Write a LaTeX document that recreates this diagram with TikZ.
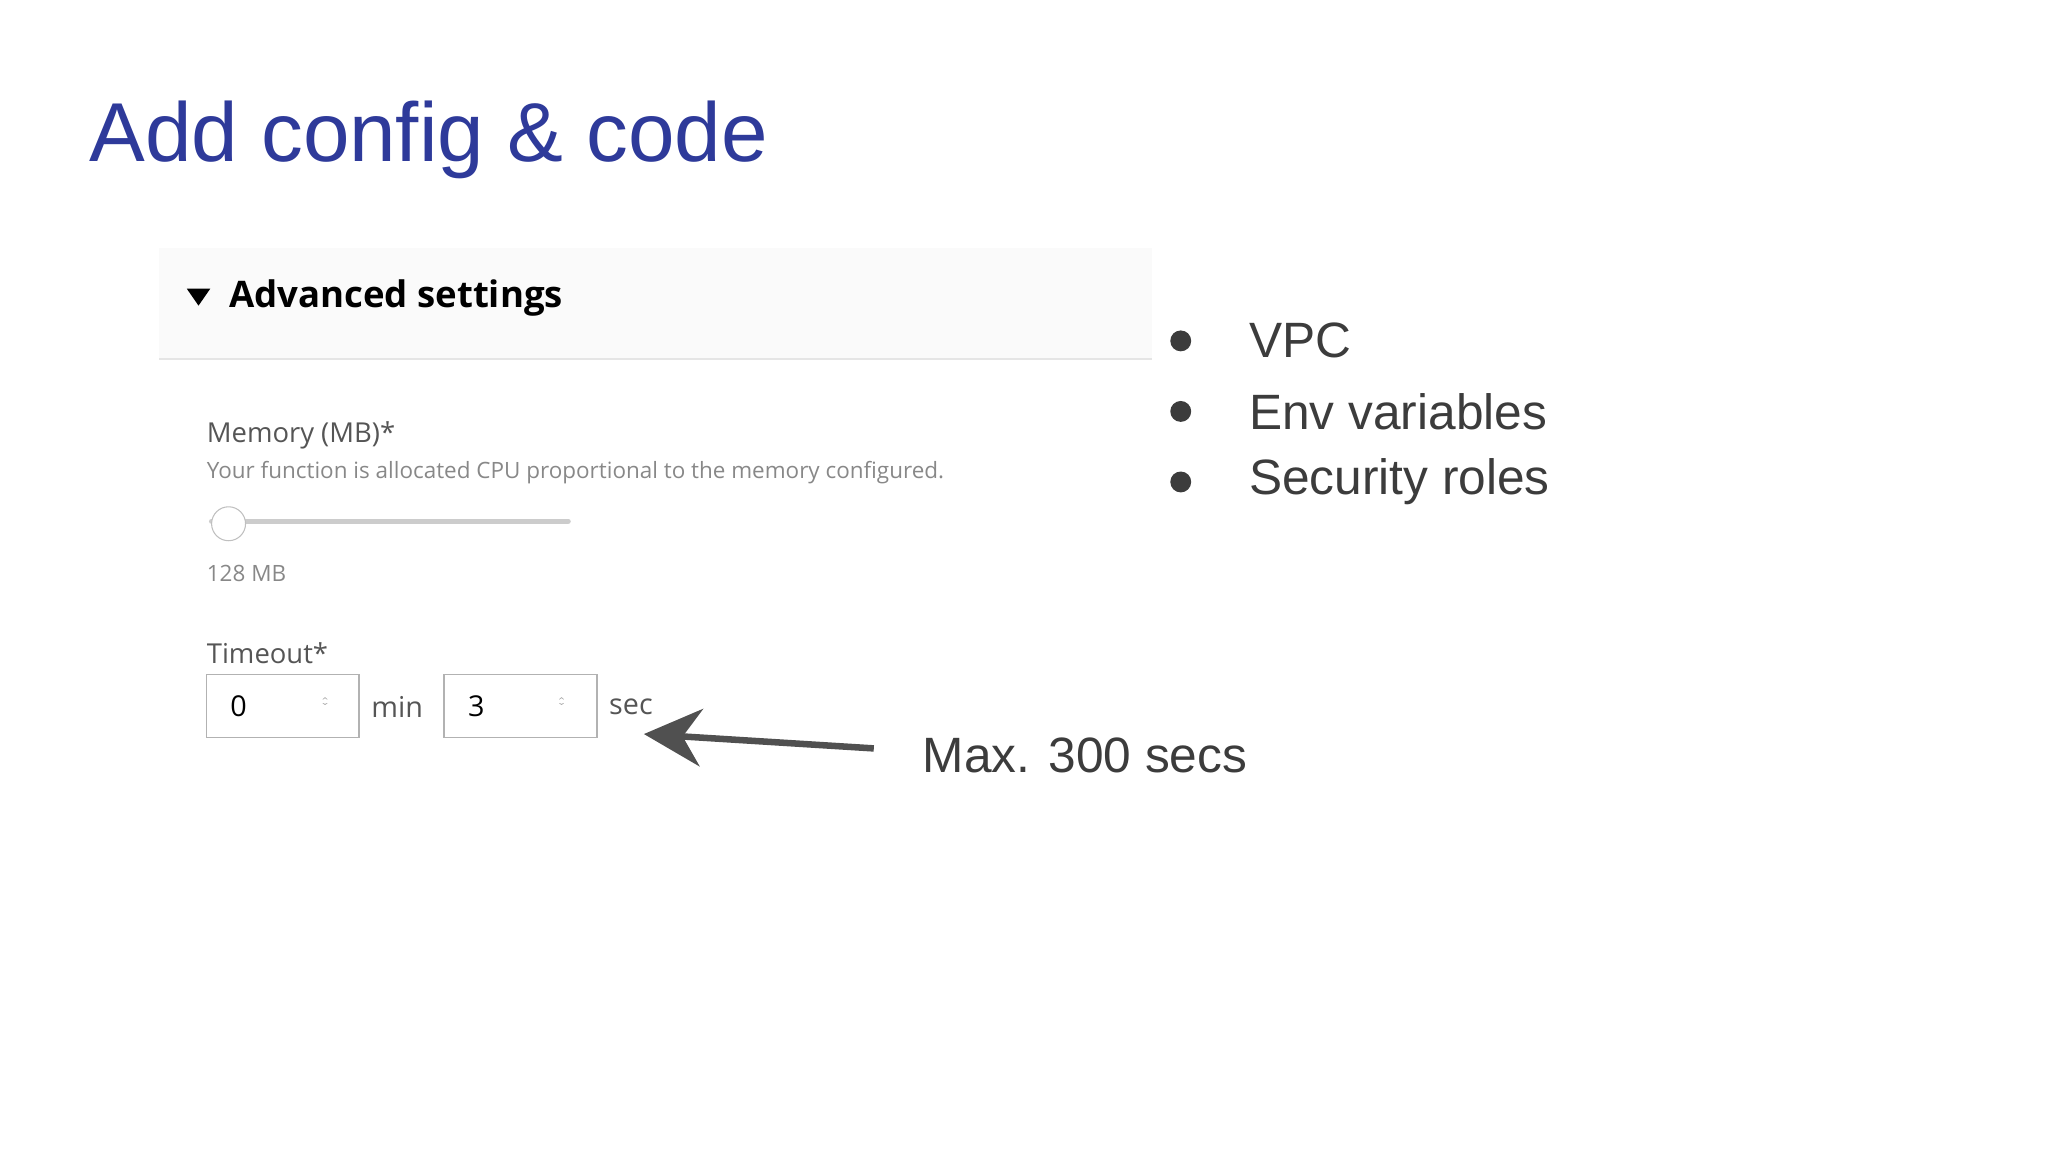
\documentclass[tikz,border=0pt]{standalone}
\usepackage{fontspec}
\setmainfont{Open Sans}
\newfontfamily\rob{Liberation Sans}
\usetikzlibrary{arrows.meta}
\definecolor{titleblue}{HTML}{2E3A9A}
\definecolor{txt}{HTML}{3C3C3C}
\definecolor{uigray}{HTML}{555555}
\definecolor{light}{HTML}{888888}
\tikzset{
 bul/.style={anchor=west,text=txt,font=\rob\fontsize{19}{22}\selectfont,inner sep=0},
 lab/.style={anchor=west,text=uigray,inner sep=0},
 box/.style={draw=black!30,fill=white,minimum width=58.5pt,minimum height=24pt,line width=0.6pt}
}
\begin{document}
\begin{tikzpicture}[x=0.5pt,y=-0.5pt]
\useasboundingbox (0,0) rectangle (1568,882);
\node[anchor=west,text=titleblue,font=\rob\fontsize{32}{36}\selectfont,inner sep=0] (title) at (68,107) {Add config \& code};
% panel
\fill[black!2] (122,190) rectangle (882,275);
\draw[black!10,line width=0.8pt] (122,275) -- (882,275);
\fill[black] (143,221) -- (161,221) -- (152,234) -- cycle;
\node[anchor=west,font=\bfseries\fontsize{14}{16}\selectfont,inner sep=0] (adv) at (175,228) {Advanced settings};
\node[lab,font=\fontsize{10.5}{12}\selectfont] (mem) at (158,333) {Memory (MB)*};
\node[lab,text=light,font=\fontsize{8.6}{10}\selectfont] (desc) at (158,362) {Your function is allocated CPU proportional to the memory configured.};
\draw[black!20,line width=2pt,line cap=round] (162,399) -- (435,399);
\node[circle,draw=black!25,fill=white,minimum size=13pt,inner sep=0] (knob) at (175,401) {};
\node[lab,text=light,font=\fontsize{8.6}{10}\selectfont] (mb) at (158,439) {128 MB};
\node[lab,font=\fontsize{10.5}{12}\selectfont] (to) at (158,500) {Timeout*};
\node[box] (b1) at (216.5,540.5) {};
\node[anchor=west,font=\fontsize{11}{12}\selectfont,inner sep=0] at (176,541) {0};
\node[text=black!40,font=\fontsize{6}{6}\selectfont,inner sep=0,align=center] at (249,540) {$\hat{}$\\[-4pt]$\check{}$};
\node[lab,font=\fontsize{11}{12}\selectfont] (min) at (284,541) {min};
\node[box] (b2) at (398.5,540.5) {};
\node[anchor=west,font=\fontsize{11}{12}\selectfont,inner sep=0] at (358,541) {3};
\node[text=black!40,font=\fontsize{6}{6}\selectfont,inner sep=0,align=center] at (430,540) {$\hat{}$\\[-4pt]$\check{}$};
\node[lab,font=\fontsize{11}{12}\selectfont] (sec) at (466,541) {sec};
% bullets
\foreach \y/\t/\n in {261/VPC/v1,315/Env variables/v2,369/Security roles/v3}{
 \fill[txt] (904,\y) circle (8);
 \node[bul] (\n) at (956,\y) {\t};
}
\node[bul] (max) at (706,578) {Max. 300 secs};
\coordinate (as) at (669,573);
\coordinate (ae) at (493,562);
\draw[txt!90,line width=2.5pt,-{Stealth[length=22pt,width=22pt]}] (as) -- (ae);
\end{tikzpicture}
\end{document}
